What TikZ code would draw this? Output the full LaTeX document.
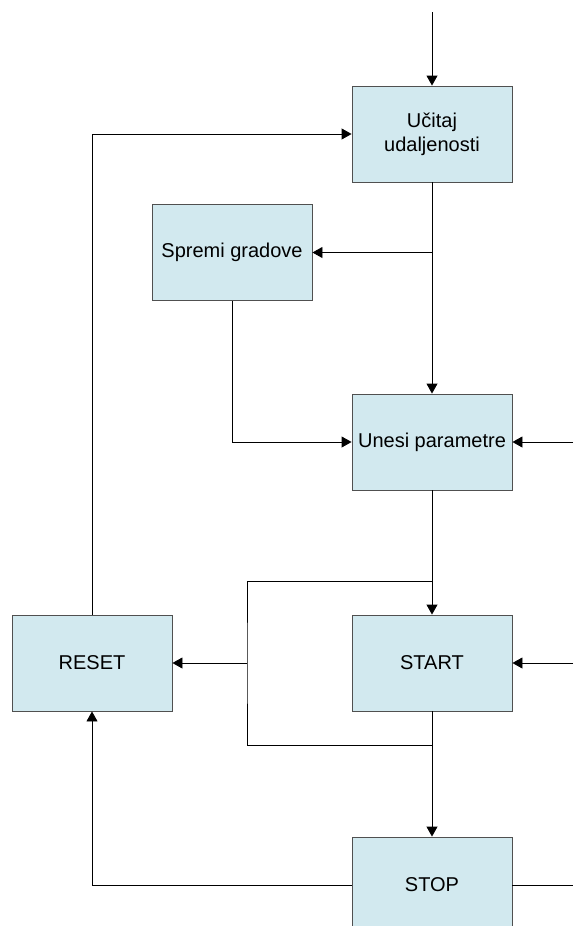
\documentclass[tikz,border=0pt]{standalone}
\usepackage{fontspec}
\setmainfont{Liberation Sans}
\usetikzlibrary{arrows.meta,positioning}
\definecolor{boxFill}{HTML}{D2E9EF}
\definecolor{boxLine}{HTML}{505050}
\tikzset{
  stateBox/.style={
    draw=boxLine,
    fill=boxFill,
    line width=0.9pt,
    minimum width=160pt,
    minimum height=96pt,
    align=center,
    inner sep=0pt,
    font=\fontsize{20}{24}\selectfont
  },
  flowArrow/.style={
    -{Triangle[length=10pt,width=11pt]},
    line width=0.9pt
  },
  flowLine/.style={
    line width=0.9pt
  }
}

\begin{document}
\begin{tikzpicture}[x=1pt,y=-1pt]
  \useasboundingbox (0,0) rectangle (573,926);
  \clip (0,0) rectangle (573,926);

  \node[stateBox] (ucitaj) at (432,134) {Učitaj\\udaljenosti};
  \node[stateBox] (spremi) at (232,252.5) {Spremi gradove};
  \node[stateBox] (unesi) at (432,442) {Unesi parametre};
  \node[stateBox] (start) at (432,663) {START};
  \node[stateBox] (reset) at (92,663) {RESET};
  \node[stateBox] (stop) at (432,885) {STOP};

  % free ends and junctions
  \coordinate (entry) at (432,12);
  \coordinate (paramIn) at (573,442);
  \coordinate (startIn) at (573,663);
  \coordinate (stopOut) at (573,885);
  \coordinate (split) at (ucitaj.south |- spremi.east);
  \coordinate (loopTop) at (432,581);
  \coordinate (loopLeft) at (247,663);
  \coordinate (loopBot) at (432,745);

  \draw[flowArrow] (entry) -- (ucitaj.north);
  \draw[flowArrow] (ucitaj.south) -- (unesi.north);
  \draw[flowArrow] (split) -- (spremi.east);
  \draw[flowArrow] (spremi.south) |- (unesi.west);
  \draw[flowArrow] (paramIn) -- (unesi.east);
  \draw[flowArrow] (unesi.south) -- (start.north);
  \draw[flowArrow] (startIn) -- (start.east);
  \draw[flowLine] (loopTop) -| (loopLeft) |- (loopBot);
  \draw[flowArrow] (loopLeft) -- (reset.east);
  \draw[flowArrow] (start.south) -- (stop.north);
  \draw[flowArrow] (reset.north) |- (ucitaj.west);
  \draw[flowArrow] (stop.west) -| (reset.south);
  \draw[flowLine] (stop.east) -- (stopOut);
\end{tikzpicture}
\end{document}
